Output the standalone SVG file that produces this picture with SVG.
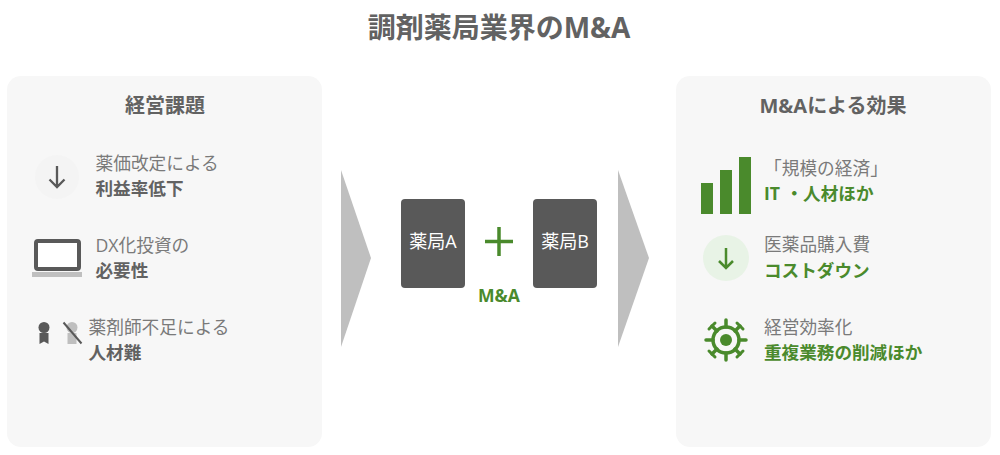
<svg xmlns="http://www.w3.org/2000/svg" width="1000" height="455" viewBox="0 0 1000 455">
<style>
text{font-family:"Open Sans","Noto Sans CJK JP",sans-serif;fill:#7a7a7a}
.t{font-size:17.700px}
.b{font-size:17.600px;font-weight:700;fill:#626262}
.g{font-size:17.600px;font-weight:700;fill:#4a8a2c}
.h{font-size:20px;font-weight:700;fill:#626262;text-anchor:middle}
.p{fill:#f7f7f7}
.d{fill:#595959}
.gf{fill:#4a8a2c}
.w{font-size:18px;fill:#fff;text-anchor:middle}
</style>
<rect width="1000" height="455" fill="#fff"/>
<text id="title" x="499" y="38" text-anchor="middle" style="font-size:28px;font-weight:700;fill:#626262">調剤薬局業界のM&amp;A</text>
<g id="panel-left"><rect class="p" x="7" y="76" width="315" height="371" rx="14"/><text class="h" x="165" y="113">経営課題</text></g>
<g id="panel-right"><rect class="p" x="676" y="76" width="315" height="371" rx="14"/><text class="h" x="833" y="113">M&amp;Aによる効果</text></g>
<g id="issue-1">
<circle cx="57" cy="177" r="22" fill="#f4f4f4"/>
<path d="M57 166V187M49.500 179.500L57 187L64.500 179.500" fill="none" stroke="#595959" stroke-width="2.300"/>
<text class="t" x="95.500" y="170">薬価改定による</text><text class="b" x="95.500" y="195">利益率低下</text>
</g>
<g id="issue-2">
<rect x="36" y="241" width="43" height="28" rx="2" fill="#fff" stroke="#595959" stroke-width="4"/>
<rect x="32" y="272" width="50" height="5" fill="#bfbfbf"/>
<text class="t" x="95.500" y="252">DX化投資の</text><text class="b" x="95.500" y="277">必要性</text>
</g>
<g id="issue-3">
<circle cx="44" cy="327.500" r="5.500" class="d"/><path class="d" d="M39.500 333H48.500V344L44 341.500L39.500 344Z"/>
<circle cx="72" cy="327.500" r="5.500" fill="#bfbfbf"/><path fill="#bfbfbf" d="M67.500 333H76.500V344H67.500Z"/>
<path d="M63.500 322.500L81.500 343.500" stroke="#595959" stroke-width="2"/>
<text class="t" x="88.500" y="334">薬剤師不足による</text><text class="b" x="88.500" y="359">人材難</text>
</g>
<g id="pharmacy-a"><rect class="d" x="401" y="199" width="64" height="89" rx="4"/><text class="w" x="433" y="248">薬局A</text></g>
<g id="pharmacy-b"><rect class="d" x="533" y="199" width="64" height="89" rx="4"/><text class="w" x="565" y="248">薬局B</text></g>
<g id="plus"><path d="M499 227V256M485 241.500H513" stroke="#4a8a2c" stroke-width="3.500" fill="none"/><text class="g" x="499" y="302" text-anchor="middle">M&amp;A</text></g>
<g id="connectors">
<path d="M341 170L371 258L341 347Z" fill="#bfbfbf"/>
<path d="M618 170L649 258L618 347Z" fill="#bfbfbf"/>
</g>
<g id="effect-1">
<rect class="gf" x="701" y="183" width="12" height="31"/><rect class="gf" x="720" y="170" width="12" height="44"/><rect class="gf" x="739" y="157" width="12" height="57"/>
<text class="t" x="764" y="175">「規模の経済」</text><text class="g" x="764" y="200">IT<tspan x="785.500">・人材ほか</tspan></text>
</g>
<g id="effect-2">
<circle cx="726" cy="258" r="23" fill="#e8f3e6"/>
<path d="M726 248V268M719 261L726 268L733 261" fill="none" stroke="#4a8a2c" stroke-width="2.500"/>
<text class="t" x="764" y="251">医薬品購入費</text><text class="g" x="764" y="277">コストダウン</text>
</g>
<g id="effect-3">
<circle cx="726" cy="340" r="13" fill="none" stroke="#4a8a2c" stroke-width="3.500"/>
<circle cx="726" cy="340" r="6" class="gf"/>
<path d="M726 320V327M726 353V360M706 340H713M739 340H746M712 326L717 331M735 349L740 354M740 326L735 331M717 349L712 354" stroke="#4a8a2c" stroke-width="3.500" stroke-linecap="round" fill="none"/>
<path d="M709 329L715 323M737 323L743 329M743 351L737 357M715 357L709 351" stroke="#4a8a2c" stroke-width="3" stroke-linecap="round" fill="none"/>
<text class="t" x="764" y="334">経営効率化</text><text class="g" x="764" y="359">重複業務の削減ほか</text>
</g>
</svg>
